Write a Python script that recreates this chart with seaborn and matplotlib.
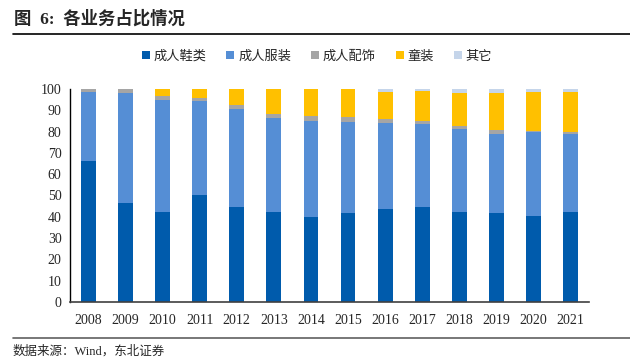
# 各业务占比情况 - stacked share of each business line, 2008-2021
import numpy as np
import pandas as pd
import matplotlib
matplotlib.use('Agg')
import matplotlib.pyplot as plt
from matplotlib.patches import Patch
from matplotlib.lines import Line2D
import seaborn as sns

years = ['2008', '2009', '2010', '2011', '2012', '2013', '2014',
         '2015', '2016', '2017', '2018', '2019', '2020', '2021']
shoes = [66.2, 46.5, 42.3, 50.0, 44.6, 42.3, 40.0, 42.0, 43.7, 44.5, 42.4, 42.0, 40.5, 42.4]
apparel = [32.4, 51.5, 52.7, 44.4, 46.0, 44.2, 45.0, 42.6, 40.2, 39.1, 38.8, 36.9, 39.5, 36.5]
accessories = [1.4, 2.0, 1.7, 1.6, 1.9, 1.8, 2.3, 2.2, 2.0, 1.4, 1.6, 1.9, 0.4, 1.1]
kids = [0.0, 0.0, 3.3, 4.0, 7.5, 11.7, 12.7, 13.2, 12.8, 14.0, 15.5, 17.5, 18.3, 18.7]
other = [0.0, 0.0, 0.0, 0.0, 0.0, 0.0, 0.0, 0.0, 1.3, 1.0, 1.7, 1.7, 1.3, 1.3]

names = ['成人鞋类', '成人服装', '成人配饰', '童装', '其它']
colors = ['#005BAC', '#558ED5', '#A5A5A5', '#FFC000', '#C5D5EA']

cjk = ['Liberation Serif', 'Noto Sans CJK SC']

df = pd.DataFrame({'year': years, '成人鞋类': shoes, '成人服装': apparel,
                   '成人配饰': accessories, '童装': kids, '其它': other})
cum = df[names].cumsum(axis=1)

sns.set_style('white')
plt.rcParams['font.family'] = cjk

fig = plt.figure(figsize=(6.3, 3.59), dpi=100)
ax = fig.add_axes([0.111, 0.159, 0.824, 0.593])

# draw cumulative totals from the top layer down so each layer overlaps the next
for name, col in reversed(list(zip(names, colors))):
    sns.barplot(x=df['year'], y=cum[name], color=col, width=0.4,
                saturation=1, ax=ax, edgecolor='none')

ax.set_xlim(-0.5, 13.5)
ax.set_ylim(0, 100)
ax.set_yticks(range(0, 101, 10))
ax.set_xlabel('')
ax.set_ylabel('')
ax.tick_params(axis='y', direction='in', length=4, width=1, labelsize=10, pad=6)
ax.tick_params(axis='x', length=0, labelsize=10, pad=9)
for lab in ax.get_xticklabels() + ax.get_yticklabels():
    lab.set_family('Liberation Serif')
sns.despine(ax=ax)
ax.spines['left'].set_color('black')
ax.spines['bottom'].set_color('#404040')
ax.spines['left'].set_linewidth(1)
ax.spines['bottom'].set_linewidth(1.2)

handles = [Patch(facecolor=c, edgecolor='none') for c in colors]
fig.legend(handles, names, loc='center', bbox_to_anchor=(0.503, 0.842), ncol=5,
           frameon=False, handlelength=0.6, handleheight=0.6,
           handletextpad=0.3, columnspacing=1.5, prop={'family': cjk, 'size': 9.5})

fig.text(0.022, 0.948, '图  6:  各业务占比情况', fontsize=12.5, fontweight='bold',
         family=cjk, va='center', ha='left')
fig.add_artist(Line2D([0.02, 1.0], [0.905, 0.905], color='black', lw=1.2))
fig.add_artist(Line2D([0.02, 1.0], [0.058, 0.058], color='#606060', lw=1.2))
fig.text(0.02, 0.02, '数据来源：Wind，东北证券', fontsize=9, family=cjk,
         va='center', ha='left')

fig.savefig('out.png', dpi=100)
